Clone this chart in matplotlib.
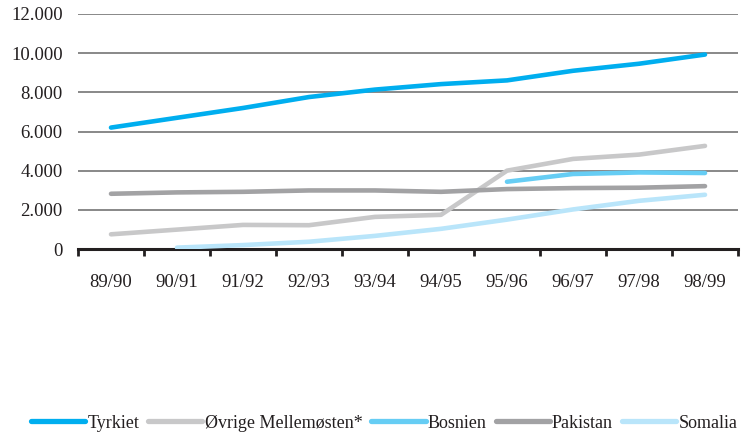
import matplotlib
matplotlib.use("Agg")
import matplotlib.pyplot as plt
import numpy as np

years = ["89/90", "90/91", "91/92", "92/93", "93/94", "94/95", "95/96", "96/97", "97/98", "98/99"]
tyrkiet = [6200, 6700, 7200, 7760, 8140, 8420, 8610, 9100, 9460, 9930]
ovrige = [750, 990, 1230, 1215, 1640, 1745, 4000, 4600, 4820, 5265]
bosnien = [None, None, None, None, None, None, 3435, 3830, 3910, 3880]
pakistan = [2820, 2890, 2920, 2990, 2990, 2920, 3060, 3110, 3130, 3210]
somalia = [None, 70, 200, 370, 670, 1030, 1500, 2020, 2460, 2770]
yticks = [0, 2000, 4000, 6000, 8000, 10000, 12000]
ytick_labels = ["0", "2.000", "4.000", "6.000", "8.000", "10.000", "12.000"]

series = [
    ("Tyrkiet", tyrkiet, "#00AEEF"),
    ("Øvrige Mellemøsten*", ovrige, "#C8C8C9"),
    ("Bosnien", bosnien, "#66CDF4"),
    ("Pakistan", pakistan, "#A2A2A4"),
    ("Somalia", somalia, "#B9E5FA"),
]

plt.rcParams['font.family'] = ['Liberation Serif', 'DejaVu Serif']

fig = plt.figure(figsize=(7.47, 4.33), dpi=100)
ax = fig.add_axes([78/747, 1-249/433, (738-78)/747, (249-14)/433])

x = np.arange(len(years))
for name, vals, col in series:
    v = np.array([np.nan if a is None else a for a in vals], dtype=float)
    ax.plot(x, v, color=col, lw=3.3, solid_capstyle='round', label=name, zorder=3)

ax.set_xlim(-0.5, len(years) - 0.5)
ax.set_ylim(0, 12000)
ax.set_yticks(yticks)
ax.set_yticklabels(ytick_labels)
ax.yaxis.grid(True, color="#7F7F7F", lw=1.3)
ax.set_axisbelow(True)
ax.tick_params(axis='y', length=0, pad=11, labelsize=13.5, colors="#231F20")
ax.set_xticks(x)
ax.set_xticklabels(years)
ax.tick_params(axis='x', which='major', length=0, pad=18, labelsize=13.5, colors="#231F20")
ax.set_xticks(np.arange(-0.5, len(years)), minor=True)
ax.tick_params(axis='x', which='minor', length=5, width=2, direction='out', color='#231F20')
for s in ['left', 'right', 'top']:
    ax.spines[s].set_visible(False)
ax.spines['bottom'].set_color('#231F20')
ax.spines['bottom'].set_linewidth(2.2)

leg = fig.legend(loc='center left', bbox_to_anchor=(31/747, 1-423/433), ncol=5, frameon=False,
                 fontsize=13, handlelength=3.0, handletextpad=0.12, columnspacing=0.5,
                 borderpad=0, borderaxespad=0)
for line in leg.get_lines():
    line.set_linewidth(3.8)
for t in leg.get_texts():
    t.set_color("#231F20")

fig.savefig("out.png", dpi=100)
